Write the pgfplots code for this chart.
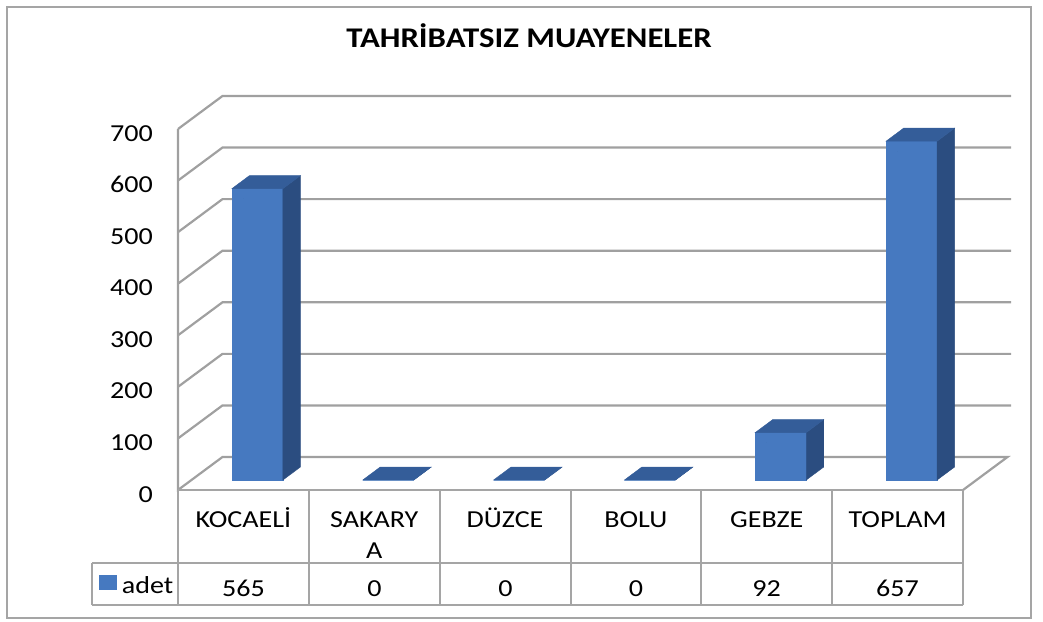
\documentclass[border=0pt]{standalone}
\usepackage{fontspec}
\setmainfont{Carlito}[FakeStretch=1.15]
\usepackage{pgfplots}
\pgfplotsset{compat=1.18}
\usepackage{pgfplotstable}
\definecolor{barfront}{RGB}{70,121,192}
\definecolor{bartop}{RGB}{52,93,153}
\definecolor{barside}{RGB}{43,77,128}
\definecolor{gridc}{RGB}{160,160,160}
\definecolor{tabc}{RGB}{165,165,165}
\pgfplotstableread{
x v
0.5 565
1.5 0
2.5 0
3.5 0
4.5 92
5.5 657
}\datatable
\newcommand\lblfont{\fontsize{24.4}{31}\selectfont}
\begin{document}
\begin{tikzpicture}
\useasboundingbox (0,0) rectangle (1043pt,621pt);
\draw[tabc, line width=1.5pt] (7pt,3pt) rectangle (1031pt,614pt);
\node[font=\fontsize{28.5}{32}\selectfont\bfseries, anchor=base, inner sep=0pt] at (529pt,573pt) {TAHRİBATSIZ MUAYENELER};
\begin{axis}[
  at={(178pt,131pt)}, anchor=south west,
  scale only axis, width=785pt, height=361pt,
  xmin=0, xmax=6, ymin=0, ymax=700,
  clip=false,
  axis line style={draw=none},
  major tick length=0pt,
  ytick={0,100,...,700},
  yticklabel={\pgfmathprintnumber{\tick}\hspace*{25pt}},
  xtick={0.5,1.5,...,5.5},
  xticklabels={KOCAELİ,{\begin{tabular}[t]{@{}c@{}}SAKARY\\A\end{tabular}},DÜZCE,BOLU,GEBZE,TOPLAM},
  xticklabel style={anchor=base, inner sep=0pt, yshift=-37pt, font=\lblfont},
  yticklabel style={anchor=base east, inner sep=0pt, yshift=-12pt, font=\lblfont},
  /pgf/number format/assume math mode=true,
  legend style={at={(axis description cs:-0.0522,-0.266)}, anchor=center, draw=none, fill=none,
    font=\lblfont, inner sep=0pt},
]
% walls and gridlines
\pgfplotsinvokeforeach{100,200,300,400,500,600,700}{
  \draw[gridc, line width=2.2pt] (axis cs:0,#1) -- (axis cs:0.34,#1+64) -- (axis cs:6.367,#1+64);
}
\draw[gridc, line width=2.2pt] (axis cs:0,700) -- (axis cs:0,0) -- (axis cs:0.34,64) -- (axis cs:6.34,64) -- (axis cs:6,0);
\addplot[scatter, only marks, mark=*, mark size=0pt,
  visualization depends on={rawy \as \val},
  scatter/@pre marker code/.code={%
    \pgfmathsetmacro\h{\val*0.515714}%
    \fill[barfront] (-11.5pt,10pt-\h pt) rectangle (39.5pt,10pt);
    \fill[barside] (39.5pt,10pt-\h pt) -- (39.5pt,10pt) -- (57pt,23pt) -- (57pt,23pt-\h pt) -- cycle;
    \fill[bartop] (-11.5pt,10pt) -- (39.5pt,10pt) -- (57pt,23pt) -- (6pt,23pt) -- cycle;
  },
  scatter/@post marker code/.code={},
  legend image code/.code={\fill[barfront] (0pt,-3pt) rectangle (17pt,11pt); \path[draw=none,fill=none] (0pt,0pt) -- (21pt,0pt);},
] table[x=x,y=v]{\datatable};
\addlegendentry{adet}
\end{axis}
% data table
\draw[tabc, line width=1.8pt] (178pt,131pt) -- (963pt,131pt);
\draw[tabc, line width=1.8pt] (92pt,58pt) -- (963pt,58pt);
\draw[tabc, line width=1.8pt] (92pt,16pt) -- (963pt,16pt);
\draw[tabc, line width=1.8pt] (92pt,58pt) -- (92pt,16pt);
\foreach \xx in {178,309,440,571,701,832,963}{
  \draw[tabc, line width=1.8pt] (\xx pt,131pt) -- (\xx pt,16pt);
}
\foreach \xx/\t in {243.5/565,374.5/0,505.5/0,636/0,766.5/92,897.5/657}{
  \node[anchor=base, inner sep=0pt, font=\lblfont] at (\xx pt,25pt) {\t};
}
\end{tikzpicture}
\end{document}
